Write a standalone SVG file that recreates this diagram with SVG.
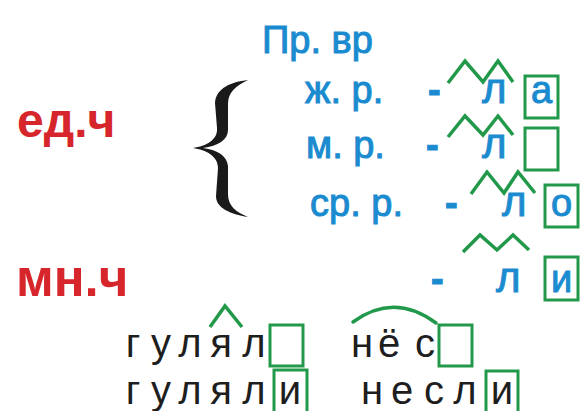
<svg xmlns="http://www.w3.org/2000/svg" width="580" height="411" viewBox="0 0 580 411">
<style>
.red{font-family:"Liberation Sans",Arial,sans-serif;font-weight:bold;fill:#d6262b}
.blue{font-family:"Liberation Sans",Arial,sans-serif;font-size:38px;fill:#1b8bd0;stroke:#1b8bd0;stroke-width:1}
.dash{font-weight:bold}
.el{font-size:42px}
.blk{font-family:"Liberation Sans",Arial,sans-serif;font-size:40px;fill:#1e1e1e}
.box{fill:none;stroke:#22994a;stroke-width:3}
.mark{fill:none;stroke:#22994a;stroke-width:3.5;stroke-linejoin:miter}
</style>
<rect width="580" height="411" fill="#ffffff"/>
<g id="labels">
<text class="red" x="17" y="137" font-size="48">ед.ч</text>
<text class="red" x="16" y="296" font-size="51">мн.ч</text>
</g>
<g id="brace">
<path d="M248,80 C231,82 216,88 215,103 L217,128 C218,140 206,146 193,148 C206,150 218,156 218,168 L216,196 C216,208 230,214 248,217 C236,212 228,206 228,194 L228,166 C227,156 218,150 203,148 C218,146 228,140 228,130 L228,104 C228,92 236,86 248,80 Z" fill="#1a1a1a"/>
</g>
<g id="title">
<text class="blue" x="262" y="53" font-size="35">Пр. вр</text>
</g>
<g id="row-zh">
<text class="blue" x="305" y="103">ж. р.</text>
<text class="blue dash" x="428" y="103">-</text>
<text class="blue el" x="482" y="103">л</text>
<rect class="box" x="525" y="76" width="33" height="42"/>
<text class="blue" x="541.5" y="103" text-anchor="middle">а</text>
<polyline class="mark" points="448,83 465,61 483,82 498,61 513,82"/>
</g>
<g id="row-m">
<text class="blue" x="306" y="158">м. р.</text>
<text class="blue dash" x="426" y="158">-</text>
<text class="blue el" x="482" y="158">л</text>
<rect class="box" x="525" y="128" width="33" height="42"/>
<polyline class="mark" points="448,137 465,116 483,135 498,116 513,135"/>
</g>
<g id="row-sr">
<text class="blue" x="310" y="216">ср. р.</text>
<text class="blue dash" x="445" y="216">-</text>
<text class="blue el" x="502" y="216">л</text>
<rect class="box" x="545" y="185" width="33" height="42"/>
<text class="blue" x="561.5" y="216" text-anchor="middle">о</text>
<polyline class="mark" points="471,194 487,172 504,193 518,172 535,193"/>
</g>
<g id="row-mn">
<text class="blue dash" x="431" y="292">-</text>
<text class="blue el" x="496" y="292">л</text>
<rect class="box" x="545" y="257" width="33" height="43"/>
<text class="blue" x="561.5" y="292" text-anchor="middle">и</text>
<polyline class="mark" points="463,252 480,235 497,250 513,235 529,250"/>
</g>
<g id="example-gulyal">
<text class="blk" y="357" text-anchor="middle"><tspan x="133">г</tspan><tspan x="161">у</tspan><tspan x="190">л</tspan><tspan x="221">я</tspan><tspan x="254">л</tspan></text>
<rect class="box" x="270" y="325" width="33" height="41"/>
<polyline class="mark" points="210,327 225,306 242,327"/>
<text class="blk" y="404" text-anchor="middle"><tspan x="133">г</tspan><tspan x="161">у</tspan><tspan x="190">л</tspan><tspan x="221">я</tspan><tspan x="254">л</tspan><tspan x="290">и</tspan></text>
<rect class="box" x="274" y="370" width="33" height="43"/>
</g>
<g id="example-nyos">
<text class="blk" y="357" text-anchor="middle"><tspan x="362">н</tspan><tspan x="389">ё</tspan><tspan x="425">с</tspan></text>
<rect class="box" x="439" y="325" width="33" height="41"/>
<path class="mark" d="M353,322 Q394,292 436,323" stroke-linecap="round"/>
<text class="blk" y="404" text-anchor="middle"><tspan x="372">н</tspan><tspan x="402">е</tspan><tspan x="434">с</tspan><tspan x="465">л</tspan><tspan x="502">и</tspan></text>
<rect class="box" x="486" y="371" width="32" height="42"/>
</g>
</svg>
